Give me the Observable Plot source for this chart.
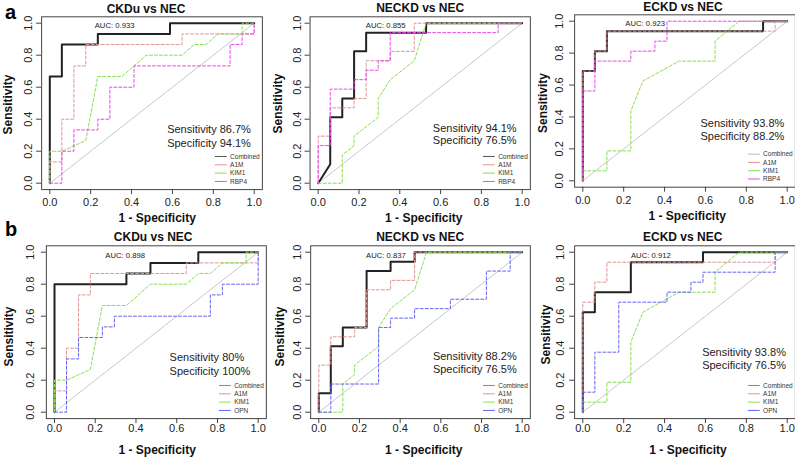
<!DOCTYPE html>
<html><head><meta charset="utf-8">
<script src="https://cdn.jsdelivr.net/npm/d3@7"></script>
<script src="https://cdn.jsdelivr.net/npm/@observablehq/plot@0.6"></script>
<style>
body{margin:0;background:#fff;}
#wrap{position:relative;width:795px;height:459px;overflow:hidden;background:#fff;font-family:"Liberation Sans",Arial,sans-serif;}
#wrap svg{position:absolute;overflow:visible;}
</style></head><body><div id="wrap"></div>
<script>
// ---------- data: ROC curves as [1 - specificity, sensitivity] ----------
const ticks = [0, 0.2, 0.4, 0.6, 0.8, 1.0];
const chance = [0, 1];

// panel a: CKDu vs NEC
const aCkduCombined = [[0,0],[0,0.667],[0.059,0.667],[0.059,0.867],[0.235,0.867],[0.235,0.933],[0.588,0.933],[0.588,1],[1,1]];
const ckduA1M = [[0,0],[0,0.133],[0.059,0.133],[0.059,0.4],[0.118,0.4],[0.118,0.733],[0.176,0.733],[0.176,0.867],[0.647,0.867],[0.647,0.933],[1,0.933],[1,1]];
const ckduKIM1 = [[0,0],[0,0.2],[0.059,0.2],[0.176,0.267],[0.235,0.667],[0.353,0.667],[0.412,0.733],[0.471,0.8],[0.647,0.8],[0.706,0.867],[0.765,0.867],[0.824,0.933],[0.941,0.933],[0.941,1],[1,1]];
const ckduRBP4 = [[0,0],[0.059,0],[0.059,0.2],[0.118,0.2],[0.118,0.333],[0.235,0.333],[0.235,0.4],[0.294,0.4],[0.294,0.6],[0.412,0.6],[0.412,0.733],[0.882,0.733],[0.882,0.867],[0.941,0.867],[0.941,0.933],[1,0.933],[1,1]];
// panel a: NECKD vs NEC
const aNeckdCombined = [[0,0],[0.059,0.118],[0.059,0.412],[0.118,0.412],[0.118,0.529],[0.176,0.529],[0.176,0.824],[0.235,0.824],[0.235,0.941],[0.529,0.941],[0.529,1],[1,1]];
const neckdA1M = [[0,0],[0,0.294],[0.059,0.294],[0.059,0.471],[0.176,0.471],[0.176,0.529],[0.235,0.529],[0.235,0.765],[0.353,0.765],[0.353,0.824],[0.471,0.824],[0.471,1],[1,1]];
const neckdKIM1 = [[0,0],[0.118,0],[0.118,0.176],[0.176,0.235],[0.176,0.294],[0.294,0.412],[0.294,0.529],[0.353,0.647],[0.471,0.765],[0.529,1],[1,1]];
const neckdRBP4 = [[0,0],[0,0.235],[0.059,0.235],[0.059,0.588],[0.176,0.588],[0.176,0.647],[0.235,0.647],[0.235,0.706],[0.294,0.706],[0.294,0.765],[0.353,0.765],[0.353,0.941],[0.882,0.941],[0.882,1],[1,1]];
// panel a: ECKD vs NEC
const aEckdCombined = [[0,0],[0,0.6875],[0.059,0.6875],[0.059,0.8125],[0.118,0.8125],[0.118,0.9375],[0.882,0.9375],[0.882,1],[1,1]];
const eckdA1M = [[0,0],[0,0.6875],[0.059,0.6875],[0.059,0.8125],[0.118,0.8125],[0.118,0.9375],[0.941,0.9375],[0.941,1],[1,1]];
const eckdKIM1 = [[0,0],[0,0.0625],[0.118,0.0625],[0.118,0.1875],[0.235,0.1875],[0.235,0.4375],[0.294,0.625],[0.471,0.75],[0.647,0.75],[0.647,0.875],[0.765,1],[1,1]];
const eckdRBP4 = [[0,0],[0,0.5625],[0.059,0.5625],[0.059,0.75],[0.235,0.75],[0.235,0.8125],[0.353,0.8125],[0.353,0.875],[0.412,0.875],[0.412,1],[1,1]];
// panel b
const bCkduCombined = [[0,0],[0,0.8],[0.353,0.8],[0.353,0.867],[0.471,0.867],[0.471,0.933],[0.706,0.933],[0.706,1],[1,1]];
const ckduOPN = [[0,0],[0.059,0],[0.059,0.333],[0.118,0.333],[0.118,0.467],[0.235,0.467],[0.235,0.533],[0.294,0.533],[0.294,0.6],[0.765,0.6],[0.765,0.733],[0.824,0.733],[0.824,0.8],[1,0.8],[1,1]];
const bNeckdCombined = [[0,0],[0,0.118],[0.059,0.118],[0.059,0.412],[0.118,0.412],[0.118,0.529],[0.235,0.529],[0.235,0.882],[0.353,0.882],[0.353,0.941],[0.471,0.941],[0.471,1],[1,1]];
const neckdOPN = [[0,0],[0.059,0],[0.059,0.176],[0.294,0.176],[0.294,0.529],[0.353,0.529],[0.353,0.588],[0.471,0.588],[0.471,0.647],[0.647,0.647],[0.647,0.706],[0.824,0.706],[0.824,0.882],[0.941,0.882],[0.941,1],[1,1]];
const bEckdCombined = [[0,0],[0,0.625],[0.059,0.625],[0.059,0.75],[0.235,0.75],[0.235,0.9375],[0.588,0.9375],[0.588,1],[1,1]];
const eckdOPN = [[0,0],[0,0.125],[0.059,0.125],[0.059,0.375],[0.176,0.375],[0.176,0.6875],[0.412,0.6875],[0.412,0.75],[0.529,0.75],[0.529,0.8125],[0.588,0.8125],[0.588,0.875],[0.941,0.875],[0.941,1],[1,1]];

const titles = ["CKDu vs NEC", "NECKD vs NEC", "ECKD vs NEC", "CKDu vs NEC", "NECKD vs NEC", "ECKD vs NEC"];
const aucLabels = ["AUC: 0.933", "AUC: 0.855", "AUC: 0.923", "AUC: 0.898", "AUC: 0.837", "AUC: 0.912"];
const sensLabels = ["Sensitivity 86.7%", "Sensitivity 94.1%", "Sensitivity 93.8%", "Sensitivity 80%", "Sensitivity 88.2%", "Sensitivity 93.8%"];
const specLabels = ["Specificity 94.1%", "Specificity 76.5%", "Specificity 88.2%", "Specificity 100%", "Specificity 76.5%", "Specificity 76.5%"];
const legendA = ["Combined", "A1M", "KIM1", "RBP4"];
const legendB = ["Combined", "A1M", "KIM1", "OPN"];

// ---------- styles ----------
const colors = {Combined: "#222222", A1M: "#e39494", KIM1: "#86e050", RBP4: "#ea48ea", OPN: "#6464f4"};
const font = "Liberation Sans, Arial, sans-serif";

// ---------- layout (pixels) ----------
const layout = [
  {left:0,   top:0,   W:265, H:225, px0:49.3, px1:253.7, py1:22.7, py0:182.7, tx:145.5, ty:8.3,  xlx:156.7, xly:218, ylx:8,  yly:104, ytx:28.3, xty:201.7, aucX:0.317, aucY:0.986, ssX:0.574, ssY:[0.336,0.246], legC:"#555"},
  {left:265, top:0,   W:265, H:225, px0:52.7, px1:256.7, py1:22.7, py0:182.7, tx:154.7, ty:7.3,  xlx:158.3, xly:218, ylx:13, yly:103, ytx:32,   xty:201.7, aucX:0.331, aucY:0.986, ssX:0.562, ssY:[0.344,0.265], legC:"#555"},
  {left:530, top:0,   W:265, H:225, px0:52.3, px1:256.7, py1:20.7, py0:180.3, tx:152.5, ty:6.7,  xlx:156.7, xly:216, ylx:13, yly:102.5, ytx:28.7, xty:199.5, aucX:0.305, aucY:0.984, ssX:0.576, ssY:[0.361,0.278], legC:"#bbb"},
  {left:0,   top:225, W:265, H:234, px0:54,   px1:257.7, py1:26.7, py0:186.7, tx:152.7, ty:11.7, xlx:156.7, xly:224.3, ylx:9,  yly:111, ytx:30, xty:203, aucX:0.347, aucY:0.979, ssX:0.565, ssY:[0.34,0.256], legC:"#888"},
  {left:265, top:225, W:265, H:234, px0:53.3, px1:256.7, py1:26.7, py0:186.7, tx:154.7, ty:11.7, xlx:158.3, xly:224.3, ylx:14.7, yly:111, ytx:32, xty:203, aucX:0.33, aucY:0.979, ssX:0.561, ssY:[0.348,0.265], legC:"#888"},
  {left:530, top:225, W:265, H:234, px0:52.3, px1:256.7, py1:26.7, py0:186.7, tx:152.2, ty:11.7, xlx:157.5, xly:224.3, ylx:15.3, yly:109, ytx:30, xty:203, aucX:0.333, aucY:0.979, ssX:0.584, ssY:[0.375,0.292], legC:"#888"}
];
const legendPos = {x1:0.81, x2:0.868, tx:0.882, rows:[0.167, 0.115, 0.063, 0.011]};

const panelSeries = [
  {Combined: aCkduCombined, A1M: ckduA1M, KIM1: ckduKIM1, RBP4: ckduRBP4},
  {Combined: aNeckdCombined, A1M: neckdA1M, KIM1: neckdKIM1, RBP4: neckdRBP4},
  {Combined: aEckdCombined, A1M: eckdA1M, KIM1: eckdKIM1, RBP4: eckdRBP4},
  {Combined: bCkduCombined, A1M: ckduA1M, KIM1: ckduKIM1, OPN: ckduOPN},
  {Combined: bNeckdCombined, A1M: neckdA1M, KIM1: neckdKIM1, OPN: neckdOPN},
  {Combined: bEckdCombined, A1M: eckdA1M, KIM1: eckdKIM1, OPN: eckdOPN}
];

const wrap = document.getElementById("wrap");

layout.forEach((L, i) => {
  const sx = L.px1 - L.px0, sy = L.py0 - L.py1;
  const fl = L.px0 - 0.04 * sx, fr = L.px1 + 0.04 * sx;
  const ft = L.py1 - 0.04 * sy, fb = L.py0 + 0.04 * sy;
  const ml = fl, mr = L.W - fr, mt = ft, mb = L.H - fb;
  const series = panelSeries[i];
  const names = Object.keys(series);
  const legNames = i < 3 ? legendA : legendB;

  const lineMarks = names.map(n => Plot.line(series[n], {
    x: d => d[0], y: d => d[1],
    stroke: colors[n],
    strokeWidth: n === "Combined" ? 2 : 1,
    strokeDasharray: n === "Combined" ? null : "3,2"
  }));

  const legRows = legNames.map((n, k) => ({name: n, y: legendPos.rows[k]}));

  const svg = Plot.plot({
    width: L.W, height: L.H,
    marginLeft: ml, marginRight: mr, marginTop: mt, marginBottom: mb,
    style: {fontFamily: font, background: "transparent", overflow: "visible"},
    x: {domain: [-0.04, 1.04], axis: null},
    y: {domain: [-0.04, 1.04], axis: null},
    marks: [
      Plot.line(chance, {x: d => d, y: d => d, stroke: "#c8c8c8", strokeWidth: 1}),
      ...lineMarks,
      Plot.frame({stroke: "#444", strokeWidth: 1}),
      // tick marks outside the frame
      Plot.axisX(ticks, {anchor: "bottom", tickSize: 5, tickFormat: () => "", label: null, stroke: "#444"}),
      Plot.axisY(ticks, {anchor: "left", tickSize: 5, tickFormat: () => "", label: null, stroke: "#444"}),
      // tick labels
      Plot.text(ticks, {x: d => d, frameAnchor: "bottom", dy: L.xty - fb, text: d => d.toFixed(1), fontSize: 11, fill: "#222", lineAnchor: "middle"}),
      Plot.text(ticks, {y: d => d, frameAnchor: "left", dx: L.ytx - fl, text: d => d.toFixed(1), fontSize: 11, fill: "#222", rotate: -90, textAnchor: "middle", lineAnchor: "middle"}),
      // titles and axis labels
      Plot.text([titles[i]], {frameAnchor: "top-left", dx: L.tx - fl, dy: L.ty - ft, textAnchor: "middle", lineAnchor: "middle", fontSize: 12, fontWeight: "bold", fill: "#111"}),
      Plot.text(["1 - Specificity"], {frameAnchor: "top-left", dx: L.xlx - fl, dy: L.xly - ft, textAnchor: "middle", lineAnchor: "middle", fontSize: 12, fontWeight: "bold", fill: "#111"}),
      Plot.text(["Sensitivity"], {frameAnchor: "top-left", dx: L.ylx - fl, dy: L.yly - ft, textAnchor: "middle", lineAnchor: "middle", rotate: -90, fontSize: 12, fontWeight: "bold", fill: "#111"}),
      // annotations
      Plot.text([aucLabels[i]], {x: L.aucX, y: L.aucY, fontSize: 7.7, fill: "#222", textAnchor: "middle", lineAnchor: "middle"}),
      Plot.text([sensLabels[i], specLabels[i]], {x: L.ssX, y: (d, k) => L.ssY[k], fontSize: 11, fill: "#222", textAnchor: "start", lineAnchor: "middle"}),
      // legend
      Plot.ruleY(legRows, {y: "y", x1: legendPos.x1, x2: legendPos.x2,
        stroke: d => d.name === "Combined" ? L.legC : colors[d.name],
        strokeWidth: 1, strokeDasharray: d => d.name === "Combined" ? null : "3,2"}),
      Plot.text(legRows, {x: legendPos.tx, y: "y", text: "name", fontSize: 6.5, fill: "#333", textAnchor: "start", lineAnchor: "middle"})
    ]
  });
  svg.style.left = L.left + "px";
  svg.style.top = L.top + "px";
  wrap.appendChild(svg);
});

// panel letters
const ns = "http://www.w3.org/2000/svg";
const over = document.createElementNS(ns, "svg");
over.setAttribute("width", 795); over.setAttribute("height", 459);
over.style.left = "0px"; over.style.top = "0px"; over.style.pointerEvents = "none";
[["a", 5, 18.5], ["b", 5, 236]].forEach(([t, x, y]) => {
  const el = document.createElementNS(ns, "text");
  el.setAttribute("x", x); el.setAttribute("y", y);
  el.setAttribute("font-family", font); el.setAttribute("font-size", 20); el.setAttribute("font-weight", "bold");
  el.textContent = t;
  over.appendChild(el);
});
wrap.appendChild(over);
</script></body></html>
